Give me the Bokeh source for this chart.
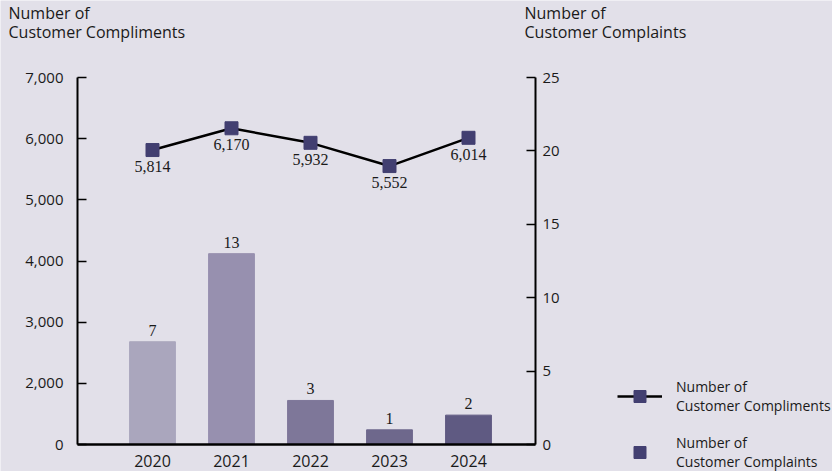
from bokeh.plotting import figure
from bokeh.models import (Range1d, LinearAxis, FixedTicker, Label, Legend, LegendItem,
                          ColumnDataSource)
from bokeh.core.properties import value
from bokeh.embed import file_html
from bokeh.resources import INLINE

# ---------------- data ----------------
years = [2020, 2021, 2022, 2023, 2024]
compliments = [5814, 6170, 5932, 5552, 6014]
compliment_labels = ["5,814", "6,170", "5,932", "5,552", "6,014"]
complaints = [7, 13, 3, 1, 2]
complaint_labels = ["7", "13", "3", "1", "2"]
bar_colors = ["#AAA6BD", "#9790AF", "#7E7799", "#6E688C", "#5F5A82"]
# left axis is broken: bottom tick (drawn at 1,000) is labelled "0"
left_ticks = [1000, 2000, 3000, 4000, 5000, 6000, 7000]
left_tick_labels = ["0", "2,000", "3,000", "4,000", "5,000", "6,000", "7,000"]
right_ticks = [0, 5, 10, 15, 20, 25]

# ---------------- layout (pixels) ----------------
W, H = 832, 471
X2020_PX, PX_PER_YEAR = 152, 79
LEFT_AXIS_PX, RIGHT_AXIS_PX = 77, 535
TOP_PX, BASE_PX = 77, 444          # 7,000 / 25 and 0 positions

L_MIN, L_MAX = 1000, 7000
R_MIN, R_MAX = 0, 25

def xdata(px):
    return 2020 + (px - X2020_PX) / PX_PER_YEAR

l_per_px = (L_MAX - L_MIN) / (BASE_PX - TOP_PX)
r_per_px = (R_MAX - R_MIN) / (BASE_PX - TOP_PX)

BG = "#E2E0E9"
MARK = "#423F71"
TXT = "#1A1A1A"
SANS = "Open Sans"
SERIF = "Liberation Serif"

p = figure(width=W, height=H, output_backend="svg", toolbar_location=None,
           x_range=Range1d(xdata(0), xdata(W)),
           y_range=Range1d(L_MIN - (H - BASE_PX) * l_per_px, L_MAX + TOP_PX * l_per_px),
           min_border=0, min_border_left=0, min_border_right=0,
           min_border_top=0, min_border_bottom=0,
           background_fill_color=BG, border_fill_color=BG,
           outline_line_color=None)
p.extra_y_ranges = {"complaints": Range1d(R_MIN - (H - BASE_PX) * r_per_px,
                                          R_MAX + TOP_PX * r_per_px)}
p.grid.visible = False

# x axis
xa = p.xaxis[0]
xa.fixed_location = L_MIN
xa.bounds = (xdata(LEFT_AXIS_PX), xdata(RIGHT_AXIS_PX))
xa.ticker = FixedTicker(ticks=years)
xa.axis_line_width = 2.5
xa.axis_line_color = "black"
xa.major_tick_line_color = None
xa.minor_tick_line_color = None
xa.major_label_text_font = SANS
xa.major_label_text_font_size = "16px"
xa.major_label_text_color = TXT
xa.major_label_standoff = 4

# left axis
ya = p.yaxis[0]
ya.fixed_location = xdata(LEFT_AXIS_PX)
ya.bounds = (L_MIN, L_MAX)
ya.ticker = FixedTicker(ticks=left_ticks)
ya.major_label_overrides = {t: s for t, s in zip(left_ticks, left_tick_labels)}
ya.axis_line_width = 2
ya.axis_line_color = "black"
ya.major_tick_in = 9
ya.major_tick_out = 0
ya.major_tick_line_width = 1.5
ya.minor_tick_line_color = None
ya.major_label_text_font = SANS
ya.major_label_text_font_size = "15px"
ya.major_label_text_color = TXT
ya.major_label_standoff = 14

# right axis
ra = LinearAxis(y_range_name="complaints", ticker=FixedTicker(ticks=right_ticks),
                fixed_location=xdata(RIGHT_AXIS_PX), bounds=(R_MIN, R_MAX))
ra.axis_line_width = 2
ra.axis_line_color = "black"
ra.major_tick_in = 9
ra.major_tick_out = 0
ra.major_tick_line_width = 1.5
ra.minor_tick_line_color = None
ra.major_label_text_font = SANS
ra.major_label_text_font_size = "15px"
ra.major_label_text_color = TXT
ra.major_label_standoff = 7
p.add_layout(ra, "right")

# bars (complaints, right axis)
bar_src = ColumnDataSource(dict(x=years, top=complaints, color=bar_colors, lab=complaint_labels))
p.vbar(x="x", top="top", bottom=0, width=0.58, color="color", source=bar_src,
       y_range_name="complaints")
p.text(x="x", y="top", text="lab", source=bar_src, y_range_name="complaints",
       text_align="center", text_baseline="bottom", y_offset=-6,
       text_font=value(SERIF), text_font_size="16px", text_color=TXT)

# line (compliments, left axis)
line_src = ColumnDataSource(dict(x=years, y=compliments, lab=compliment_labels))
line_r = p.line(x="x", y="y", source=line_src, line_color="black", line_width=2.5)
mark_r = p.scatter(x="x", y="y", source=line_src, marker="square", size=13,
                   fill_color=MARK, line_color=MARK)
p.text(x="x", y="y", text="lab", source=line_src,
       text_align="center", text_baseline="top", y_offset=11,
       text_font=value(SERIF), text_font_size="16px", text_color=TXT)

# axis titles
for tx, title in [(8, "Number of\nCustomer Compliments"), (524, "Number of\nCustomer Complaints")]:
    p.add_layout(Label(x=tx, y=H - 1, x_units="screen", y_units="screen",
                       text=title, text_baseline="top",
                       text_font=SANS, text_font_size="16px", text_color=TXT,
                       text_line_height=0.87))

legend = Legend(items=[
    LegendItem(label="Number of\nCustomer Compliments", renderers=[line_r, mark_r]),
    LegendItem(label="Number of\nCustomer Complaints", renderers=[mark_r]),
], location=(617, 0), padding=0, margin=0, spacing=18,
    glyph_width=45, glyph_height=30, label_standoff=14,
    label_text_font=SANS, label_text_font_size="14px", label_text_color=TXT,
    label_text_line_height=0.85,
    background_fill_alpha=0, border_line_alpha=0)
p.add_layout(legend, "center")

open("out.html", "w").write(file_html(p, INLINE))
